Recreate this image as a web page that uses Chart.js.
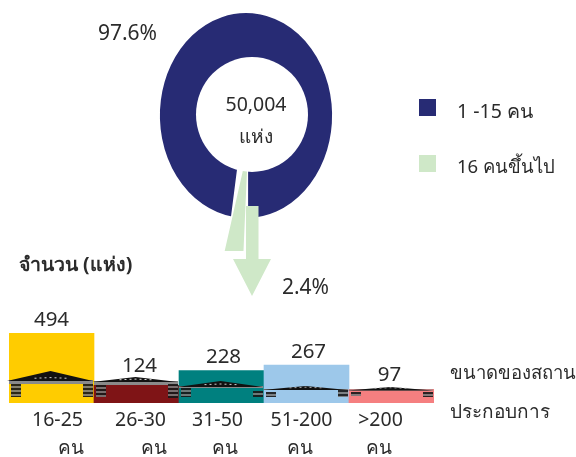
<!DOCTYPE html>
<html><head><meta charset="utf-8">
<script src="https://cdn.jsdelivr.net/npm/chart.js@4"></script>
<style>
html,body{margin:0;padding:0;background:#fff;overflow:hidden}
#wrap{position:relative;width:576px;height:457px;overflow:hidden;font-family:"Noto Sans",sans-serif;color:#2b2b2b}
canvas{position:absolute;left:0;top:0}
.t{position:absolute;white-space:nowrap;line-height:24px;transform:translate(-50%,-50%)}
.l{position:absolute;white-space:nowrap;line-height:24px;transform:translateY(-50%)}
.s{position:absolute;width:17px;height:17px}
</style></head><body>
<div id="wrap">
<canvas id="pie" width="576" height="457"></canvas>
<canvas id="bar" width="576" height="457"></canvas>
<div class="t" style="left:127.5px;top:32px;font-size:21px">97.6%</div>
<div class="t" style="left:305.5px;top:286px;font-size:21px">2.4%</div>
<div class="t" style="left:256px;top:104px;font-size:19.5px">50,004</div>
<div class="t" style="left:256px;top:136px;font-size:19px">แห่ง</div>
<div class="s" style="left:419px;top:99px;background:#272b74"></div>
<div class="l" style="left:457px;top:111px;font-size:19.5px">1 -15 คน</div>
<div class="s" style="left:419px;top:155px;background:#cfe8c8"></div>
<div class="l" style="left:457px;top:166px;font-size:18.5px">16 คนขึ้นไป</div>
<div class="l" style="left:19px;top:264px;font-size:19.5px;font-weight:bold">จำนวน (แห่ง)</div>
<div class="l" style="left:450px;top:372px;font-size:18.5px">ขนาดของสถาน</div>
<div class="l" style="left:450px;top:411px;font-size:19px">ประกอบการ</div>
</div>
<script>
const shareLabels = ["1 -15 คน", "16 คนขึ้นไป"];
const shareValues = [97.6, 2.4];
const shareColors = ["#272b74", "#cfe8c8"];
const sizeLabels = ["16-25", "26-30", "31-50", "51-200", ">200"];
const sizeUnit = "คน";
const sizeValues = [494, 124, 228, 267, 97];
const sizeColors = ["#ffcc00", "#7f1416", "#00807f", "#9dc8ea", "#f57f80"];
const FONT = '"Noto Sans",sans-serif';

const deg = Math.PI / 180;
const ellipsePlugin = {
  id: 'ellipse',
  beforeDatasetsDraw(chart) {
    const a = chart.chartArea, cx = (a.left + a.right) / 2;
    const arc = chart.getDatasetMeta(0).data[1];
    arc.x = cx + 2.4; arc.y = 148;
    arc.startAngle = 93 * deg; arc.endAngle = 105.1 * deg; arc.circumference = 12.1 * deg;
    arc.innerRadius = 8; arc.outerRadius = 125;
    const c = chart.ctx;
    c.save();
    c.beginPath(); c.rect(0, 0, 576, 251); c.clip();
    c.translate(cx, 0); c.scale(0.84, 1); c.translate(-cx, 0);
  },
  afterDatasetsDraw(chart) {
    const c = chart.ctx;
    c.restore();
    c.save();
    c.fillStyle = '#fff';
    c.beginPath(); c.ellipse(252, 114.5, 56, 57.5, 0, 0, Math.PI * 2); c.fill();
    c.fillStyle = shareColors[1];
    c.beginPath();
    [[246,206],[258.5,206],[258.5,259],[271,259],[252,296],[233,259],[246,259]].forEach((p,i)=> i?c.lineTo(p[0],p[1]):c.moveTo(p[0],p[1]));
    c.closePath(); c.fill();
    c.restore();
  }
};
new Chart(document.getElementById('pie'), {
  type: 'doughnut',
  data: { labels: shareLabels, datasets: [{ data: shareValues, backgroundColor: shareColors, borderColor: '#fff', borderWidth: [5, 0], borderAlign: 'center' }] },
  plugins: [ellipsePlugin],
  options: { responsive: false, animation: false, rotation: 188.64, cutout: '40%',
    layout: { padding: { left: 0, right: 84, top: 8, bottom: 234 } },
    plugins: { legend: { display: false }, tooltip: { enabled: false } } }
});

const tickShift = [6, 4, -4, -5, -11];
const unitShift = [19, 17, 3, -7, -13];
const valueShift = [0, 3, 2, 2, -2];
const valueLift = [13, 19, 14, 13, 14];
// apex, eave, band bottom, left pillar top/bottom, right pillar top/bottom
const roofs = [[371,380,384,384,397,384,397],[377,381,385,385,397,384,398],[381,386,388,388,397,391,397],[386,389,390,392,397,390,397],[387,389.5,390.5,392,396,392,397]];
const gableLight = ['#d0d0d0','#ddd','#ccc','#aaa','#999'];
function stripes(c, x, y0, y1, w) {
  for (let y = y0, k = 0; y < y1; y += 2, k++) {
    c.fillStyle = k % 2 ? 'rgba(120,120,120,.9)' : 'rgba(25,25,25,.92)';
    c.fillRect(x, y, w, Math.min(2, y1 - y));
  }
}
const barExtras = {
  id: 'barExtras',
  beforeDraw(chart) {
    const s = chart.scales.x;
    const items = s.getLabelItems(chart.chartArea);
    if (!items._shifted) { items._shifted = true; items.forEach((it, i) => { it.options.translation[0] += tickShift[i]; it.options.translation[1] -= 7; }); }
  },
  afterDatasetsDraw(chart) {
    const c = chart.ctx, meta = chart.getDatasetMeta(0), s = chart.scales.x;
    c.save();
    meta.data.forEach((b, i) => {
      const x0 = b.x - b.width / 2, x1 = b.x + b.width / 2, r = roofs[i];
      const mid = b.x - 1;
      c.fillStyle = '#8a8a8a'; c.fillRect(x0, r[1], b.width - 1, r[2] - r[1]);
      c.fillStyle = '#111';
      c.beginPath(); c.moveTo(x0 - 2, r[1] + 1); c.lineTo(mid, r[0]); c.lineTo(x1 - 1, r[1] + 1); c.closePath(); c.fill();
      c.fillStyle = gableLight[i];
      for (let k = -3; k <= 3; k++) c.fillRect(mid + k * 5 - 1, r[1] - 2 + Math.abs(k) * 0.2 - (r[1]-r[0]) * 0.1, 2, 1);
      stripes(c, x0 + 2, r[3], r[4], 10);
      stripes(c, x1 - 11, r[5], r[6], 10);
    });
    c.font = '20.5px ' + FONT; c.fillStyle = '#2b2b2b'; c.textAlign = 'center'; c.textBaseline = 'middle';
    meta.data.forEach((b, i) => {
      c.fillText(String(sizeValues[i]), b.x + valueShift[i], b.y - valueLift[i]);
    });
    c.font = '19px ' + FONT;
    meta.data.forEach((b, i) => c.fillText(sizeUnit, s.getPixelForTick(i) + unitShift[i], 449));
    c.restore();
  }
};
new Chart(document.getElementById('bar'), {
  type: 'bar',
  data: { labels: sizeLabels, datasets: [{ data: sizeValues, backgroundColor: sizeColors, barPercentage: 1, categoryPercentage: 1 }] },
  plugins: [barExtras],
  options: { responsive: false, animation: false,
    layout: { padding: { left: 9, right: 142, top: 333, bottom: 0 } },
    scales: {
      x: { afterFit(s) { s.height = 54; }, grid: { display: false }, border: { display: false },
        ticks: { autoSkip: false, maxRotation: 0, minRotation: 0, padding: 5, color: '#2b2b2b', font: { family: FONT, size: 19.5 } } },
      y: { display: false, min: 0, max: 494 }
    },
    plugins: { legend: { display: false }, tooltip: { enabled: false } } }
});
</script>
</body></html>
